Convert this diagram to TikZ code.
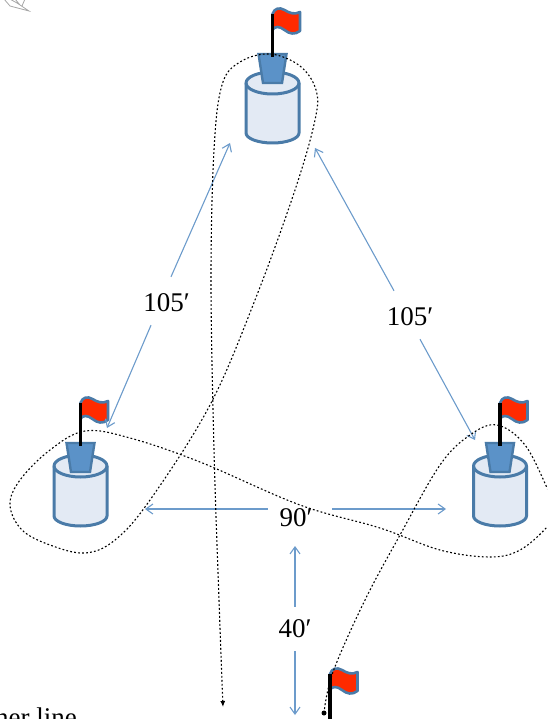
\documentclass[tikz,border=0pt]{standalone}
\usepackage{fontspec}
\setmainfont{Liberation Serif}
\usetikzlibrary{arrows.meta}
\definecolor{blueedge}{HTML}{4A7BA8}
\definecolor{bluefill}{HTML}{5B92C8}
\definecolor{cylfill}{HTML}{E3EAF4}
\definecolor{arrowblue}{HTML}{6C9BCB}
\definecolor{flagred}{HTML}{FF2A00}
\tikzset{
 x=1pt,y=-1pt,
 lab/.style={font=\fontsize{27}{31}\selectfont,inner sep=0pt,minimum width=58pt,minimum height=44pt},
 arr/.style={draw=arrowblue,line width=1.1pt,-{Straight Barb[length=7pt,width=10pt,line width=1.1pt]}},
 dots/.style={line width=1.1pt,dash pattern=on 1.8pt off 2.2pt},
 flagpart/.style={draw=blueedge,line width=2.6pt,fill=flagred,line join=round},
 pole/.style={line width=3.6pt,black},
 flagpic/.pic={
  \draw[flagpart] (0,-58) .. controls (2,-64) and (7,-65) .. (12,-62) .. controls (17,-59) and (22,-57) .. (27.5,-60)
    -- (27.5,-41) .. controls (22,-37) and (17,-38) .. (12,-42) .. controls (7,-46) and (2,-46) .. (0,-42) -- cycle;
  \draw[pole] (0,-58) -- (0,-15);
 },
 cylpic/.pic={
  \draw[blueedge,line width=3pt,fill=cylfill,line join=round] (-26.5,11) .. controls (-26.5,5) and (-14.6,0) .. (0,0) .. controls (14.6,0) and (26.5,5) .. (26.5,11) -- (26.5,61) .. controls (26.5,66.5) and (14.6,71) .. (0,71) .. controls (-14.6,71) and (-26.5,66.5) .. (-26.5,61) -- cycle;
  \draw[blueedge,line width=3pt] (-26.5,11) .. controls (-26.5,17) and (-14.6,22) .. (0,22) .. controls (14.6,22) and (26.5,17) .. (26.5,11);
 },
 bucketpic/.pic={
  \draw[blueedge,line width=2.4pt,fill=bluefill,line join=miter] (-14,-18) -- (14,-18) -- (9.5,11) -- (-9.5,11) -- cycle;
  \pic at (0,0) {flagpic};
 }
}
\begin{document}
\begin{tikzpicture}
\useasboundingbox (0,0) rectangle (547,719);
\clip (0,0) rectangle (547,719);
% sketch mark in the corner
\draw[gray!70,line width=.8pt] (4,-1) -- (10,6) -- (29,11) -- (17,3) -- (8,-2) (22,6) -- (25,-1) (20,5) -- (15,-1);
% holes
\pic at (272.5,72) {cylpic};
\pic at (272.5,72) {bucketpic};
\pic at (80.5,455) {cylpic};
\pic at (80.5,461) {bucketpic};
\pic at (500,455) {cylpic};
\pic at (500,461) {bucketpic};
\pic at (330,732) {flagpic};
\draw[pole] (330,680) -- (330,725);
\node[circle,fill=black,inner sep=0pt,minimum size=5pt] (ball) at (324,713) {};
% labels
\node[lab] (la) at (166.5,303) {105′};
\node[lab] (lb) at (410,317) {105′};
\node[lab] (lc) at (296,518) {90′};
\node[lab] (ld) at (295,629) {40′};
\node[font=\fontsize{27}{31}\selectfont,anchor=base west,inner sep=0pt] (cut) at (-5,726) {ner line};
% arrows
\coordinate (ta) at (230,143);
\coordinate (tb) at (107,428);
\coordinate (tc) at (315,148);
\coordinate (td) at (475,440);
\coordinate (te) at (145,509);
\coordinate (tf) at (446,509);
\coordinate (tg) at (295,546);
\coordinate (th) at (295,715);
\draw[arr] ([shift={(4.5pt,4pt)}]la.north) -- (ta);
\draw[arr] ([xshift=-15.5pt]la.south) -- (tb);
\draw[arr] ([shift={(-16pt,4pt)}]lb.north) -- (tc);
\draw[arr] ([xshift=10pt]lb.south) -- (td);
\draw[arr] ([shift={(1pt,9pt)}]lc.west) -- (te);
\draw[arr] ([shift={(7pt,9pt)}]lc.east) -- (tf);
\draw[arr] (ld.north) -- (tg);
\draw[arr] (ld.south) -- (th);
% walking route
\coordinate (routeend) at (223,707);
\draw[dots,-{Latex[length=6pt,width=5pt]},smooth,tension=0.6] plot coordinates {
 (324,713) (333,672) (365,600) (400,535) (440,465) (470,435) (497,425) (525,445) (548,490) (556,510) (547,527) (520,550) (490,557) (440,550) (380,528) (300,505) (200,462) (130,438) (85,431) (50,450) (20,480) (10,505) (22,530) (50,545) (85,553) (115,540) (150,500) (210,405) (255,300) (295,190) (315,120) (316,90) (300,66) (270,54) (240,62) (222,85) (214,150) (211,280) (214,450) (219,600) (routeend)};
\end{tikzpicture}
\end{document}
